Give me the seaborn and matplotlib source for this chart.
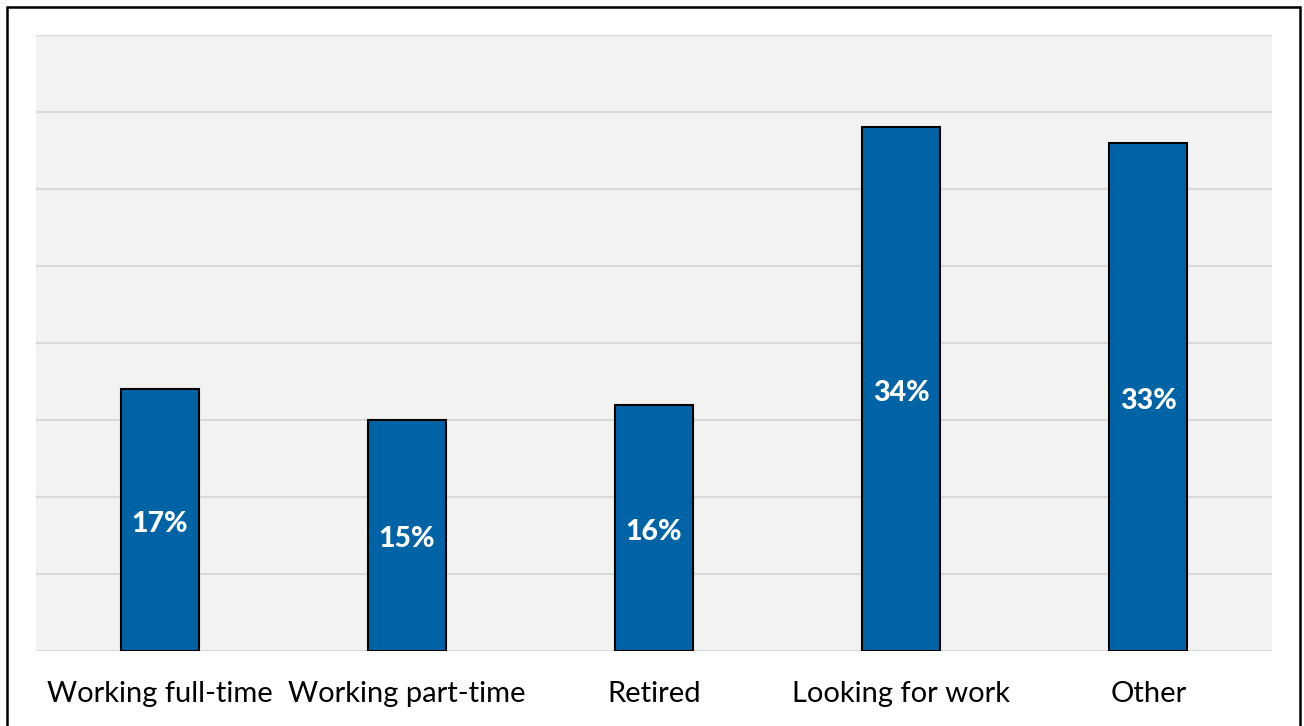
import matplotlib
matplotlib.use("Agg")
import matplotlib.pyplot as plt
import seaborn as sns
import pandas as pd
from matplotlib.patches import Rectangle

categories = ["Working full-time", "Working part-time", "Retired", "Looking for work", "Other"]
values = [17, 15, 16, 34, 33]
labels = ["17%", "15%", "16%", "34%", "33%"]

sns.set_theme(style="white")
plt.rcParams['font.family'] = ['Lato', 'DejaVu Sans']

df = pd.DataFrame({"category": categories, "value": values})

fig = plt.figure(figsize=(13.04, 7.26), dpi=100)
fig.patch.set_facecolor("white")
ax = fig.add_axes([36/1304, 1-651/726, (1272-36)/1304, (651-35)/726])
ax.set_facecolor("#F2F2F2")

sns.barplot(data=df, x="category", y="value", ax=ax, color="#0063A6",
            width=0.316, edgecolor="black", linewidth=1.5, saturation=1, zorder=3)

ax.set_ylim(0, 40)
ax.set_yticks(range(0, 41, 5))
ax.yaxis.grid(True, color="#D9D9D9", linewidth=1.5, zorder=0)
ax.set_axisbelow(True)
ax.tick_params(axis="y", left=False, labelleft=False)
ax.tick_params(axis="x", bottom=False, labelsize=21, colors="black", pad=15.5)
for s in ax.spines.values():
    s.set_visible(False)
ax.set_xlabel("")
ax.set_ylabel("")

for i, (v, lab) in enumerate(zip(values, labels)):
    ax.text(i, v/2 - 0.25, lab, ha="center", va="center", color="white",
            fontsize=20.5, fontweight="black", zorder=4)

fig.patches.append(Rectangle((7/1304, -0.05), (1300-7)/1304, 1-7/726+0.05,
                             transform=fig.transFigure, fill=False,
                             edgecolor="black", linewidth=1.8, zorder=10))

fig.savefig("out.png", dpi=100)
